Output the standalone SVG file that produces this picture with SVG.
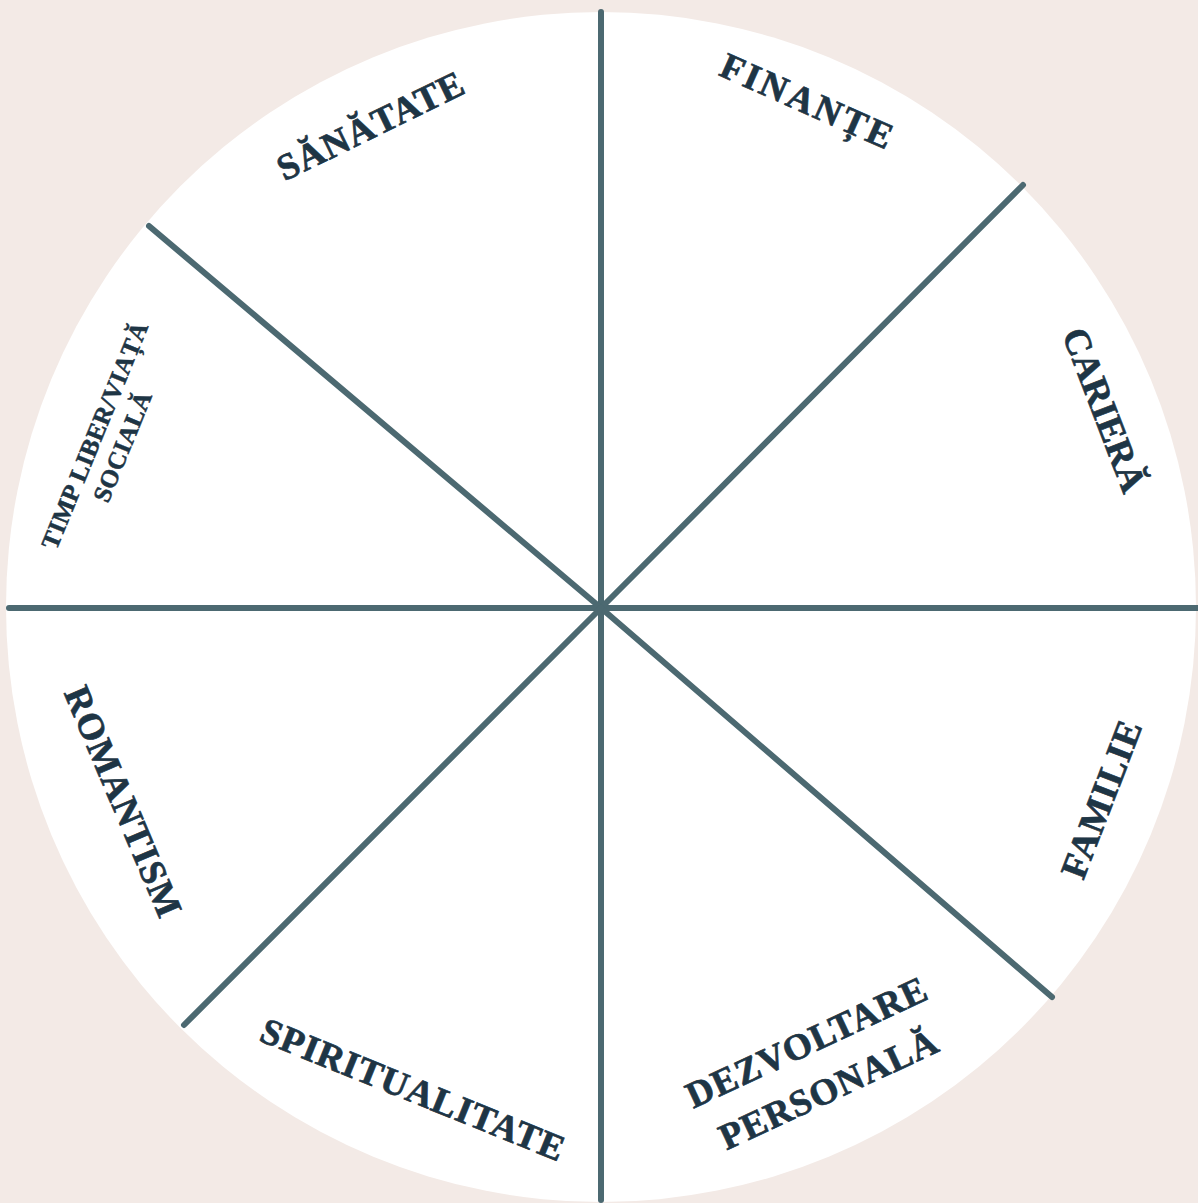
<svg xmlns="http://www.w3.org/2000/svg" width="1198" height="1203" viewBox="0 0 1198 1203">
  <style>
    .lbl { font-family: "Liberation Serif", "Times New Roman", serif; font-weight: bold; font-size: 37px; letter-spacing: 1px; fill: #1E3545; stroke: #1E3545; stroke-width: 0.7; text-anchor: middle; }
    .sm { font-size: 25px; letter-spacing: 0.5px; stroke-width: 0.5; }
    .spoke { stroke: #4C6971; stroke-width: 6; stroke-linecap: round; fill: none; }
  </style>
  <rect width="1198" height="1203" fill="#F3EAE6"/>
  <circle cx="601" cy="607" r="595" fill="#FFFFFF"/>
  <g id="connectors">
    <line class="spoke" x1="601" y1="12" x2="601" y2="1200"/>
    <line class="spoke" x1="9" y1="608" x2="1198" y2="608"/>
    <line class="spoke" x1="601" y1="608" x2="1023" y2="185"/>
    <line class="spoke" x1="601" y1="608" x2="149" y2="226"/>
    <line class="spoke" x1="601" y1="608" x2="1052" y2="997"/>
    <line class="spoke" x1="601" y1="608" x2="184" y2="1025"/>
  </g>
  <g id="sanatate">
    <text class="lbl" transform="translate(371,126) rotate(-26)" x="0" y="12">SĂNĂTATE</text>
  </g>
  <g id="finante">
    <text class="lbl" transform="translate(808,102) rotate(24)" x="0" y="12" style="letter-spacing:3px">FINANȚE</text>
  </g>
  <g id="cariera">
    <text class="lbl" transform="translate(1104,410) rotate(69)" x="0" y="12" style="letter-spacing:0px">CARIERĂ</text>
  </g>
  <g id="familie">
    <text class="lbl" transform="translate(1102,799) rotate(-69)" x="0" y="12">FAMILIE</text>
  </g>
  <g id="dezvoltare">
    <text class="lbl" transform="translate(818,1066) rotate(-25)" x="0" y="-14">DEZVOLTARE</text>
    <text class="lbl" transform="translate(818,1066) rotate(-25)" x="0" y="38">PERSONALĂ</text>
  </g>
  <g id="spiritualitate">
    <text class="lbl" transform="translate(413,1090) rotate(22)" x="0" y="12">SPIRITUALITATE</text>
  </g>
  <g id="romantism">
    <text class="lbl" transform="translate(123,802) rotate(67)" x="0" y="12">ROMANTISM</text>
  </g>
  <g id="timp-liber">
    <text class="lbl sm" transform="translate(109,441) rotate(-67.7)" x="0" y="-7">TIMP LIBER/VIAȚĂ</text>
    <text class="lbl sm" transform="translate(109,441) rotate(-67.7)" x="0" y="23">SOCIALĂ</text>
  </g>
</svg>
